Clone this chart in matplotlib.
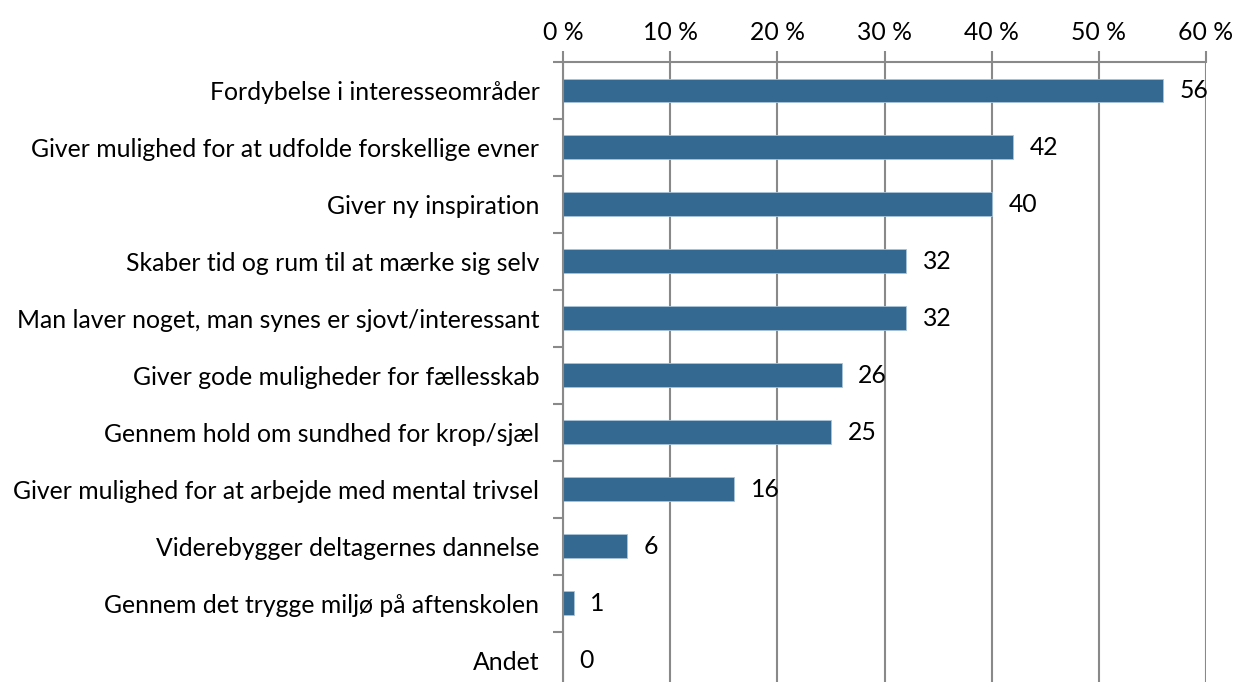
import matplotlib.pyplot as plt
import numpy as np

categories = [
    "Fordybelse i interesseområder",
    "Giver mulighed for at udfolde forskellige evner",
    "Giver ny inspiration",
    "Skaber tid og rum til at mærke sig selv",
    "Man laver noget, man synes er sjovt/interessant",
    "Giver gode muligheder for fællesskab",
    "Gennem hold om sundhed for krop/sjæl",
    "Giver mulighed for at arbejde med mental trivsel",
    "Viderebygger deltagernes dannelse",
    "Gennem det trygge miljø på aftenskolen",
    "Andet",
]
values = [56, 42, 40, 32, 32, 26, 25, 16, 6, 1, 0]
xticks = [0, 10, 20, 30, 40, 50, 60]
xtick_labels = ["0 %", "10 %", "20 %", "30 %", "40 %", "50 %", "60 %"]

plt.rcParams['font.family'] = ['Lato', 'DejaVu Sans']
grid_col = '#898989'
bar_col = '#346a92'
fs = 17.8

fig = plt.figure(figsize=(12.35, 6.82), dpi=100)
ax = fig.add_axes([0.4559, -0.0098, 0.5206, 0.9189])

y = np.arange(len(categories))
ax.barh(y, values, height=0.42, color=bar_col, edgecolor='#a9c3d8', linewidth=0.6, zorder=3)

for yi, v in zip(y, values):
    ax.text(v + 1.55, yi, str(v), va='center', ha='left', fontsize=fs, zorder=4)

ax.set_xlim(0, 60)
ax.set_ylim(len(categories) - 0.5, -0.5)

# x axis on top with vertical gridlines
ax.xaxis.tick_top()
ax.set_xticks(xticks)
ax.set_xticklabels(xtick_labels, fontsize=fs)
ax.tick_params(axis='x', length=8, width=1.5, color=grid_col, pad=5)
ax.grid(axis='x', color=grid_col, linewidth=1.5, zorder=0)

# category labels, separator ticks between them
ax.set_yticks(y)
ax.set_yticklabels(categories, fontsize=fs)
ax.tick_params(axis='y', which='major', length=0, pad=17)
ax.set_yticks(np.arange(-0.5, len(categories), 1.0), minor=True)
ax.tick_params(axis='y', which='minor', length=7, width=1.5, color=grid_col)

for side in ['right', 'bottom']:
    ax.spines[side].set_visible(False)
for side in ['left', 'top']:
    ax.spines[side].set_color(grid_col)
    ax.spines[side].set_linewidth(1.5)
    ax.spines[side].set_zorder(5)

fig.savefig('out.png', dpi=100)
